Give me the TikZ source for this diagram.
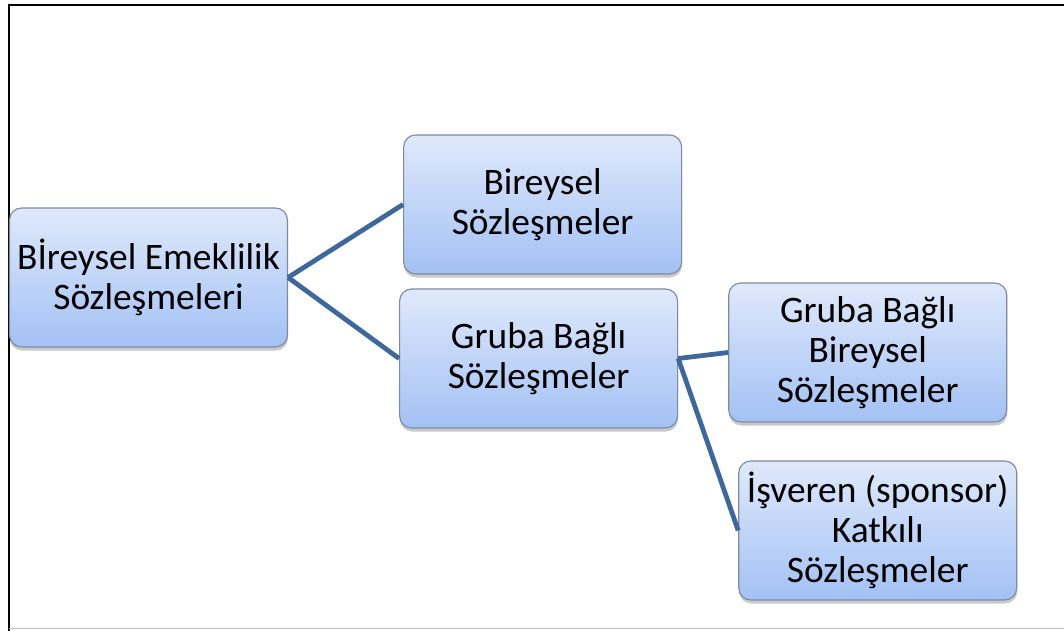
\documentclass[tikz,border=0pt]{standalone}
\usepackage{fontspec}
\setmainfont{Carlito}
\usetikzlibrary{positioning, shadows}

\definecolor{boxtop}{HTML}{DFE9FB}
\definecolor{boxbottom}{HTML}{A3C1F5}
\definecolor{boxline}{HTML}{7E8B9C}
\definecolor{linkblue}{HTML}{3E689C}

\begin{document}
\begin{tikzpicture}
	\tikzset{
		kutu/.style={
			draw=boxline,
			line width=0.8pt,
			rounded corners=0.3cm,
			top color=boxtop,
			bottom color=boxbottom,
			minimum width=6.95cm,
			minimum height=3.475cm,
			align=center,
			font=\fontsize{26.6}{28.6}\selectfont,
			drop shadow={shadow xshift=0.3pt, shadow yshift=-2.5pt, opacity=0.35, fill=black!60}
		},
		bag/.style={
			draw=linkblue,
			line width=3.4pt
		},
	}

	\useasboundingbox (0,0) rectangle (26.6,-15.775);
	% frame
	\draw[line width=1.6pt] (0.225,-15.775) -- (0.225,-0.125) -- (26.6,-0.125);
	\draw[black!25, line width=0.6pt] (0.225,-15.72) -- (26.6,-15.72);

	\node[kutu] (kok) at (3.7125,-6.9375) {Bİreysel Emeklilik\\Sözleşmeleri};
	\node[kutu, right=2.875cm of kok, yshift=1.825cm] (bireysel) {Bireysel\\Sözleşmeler};
	\node[kutu, right=2.775cm of kok, yshift=-2.025cm] (gruba) {Gruba Bağlı\\Sözleşmeler};
	\node[kutu, right=1.25cm of gruba, yshift=0.15cm] (gbireysel) {Gruba Bağlı\\Bireysel\\Sözleşmeler};
	\node[kutu, right=1.5cm of gruba, yshift=-4.3cm] (isveren) {İşveren (sponsor)\\Katkılı\\Sözleşmeler};

	\draw[bag] (kok.east) -- (bireysel.west);
	\draw[bag] (kok.east) -- (gruba.west);
	\draw[bag] (gruba.east) -- (gbireysel.west);
	\draw[bag] (gruba.east) -- (isveren.west);
\end{tikzpicture}
\end{document}
